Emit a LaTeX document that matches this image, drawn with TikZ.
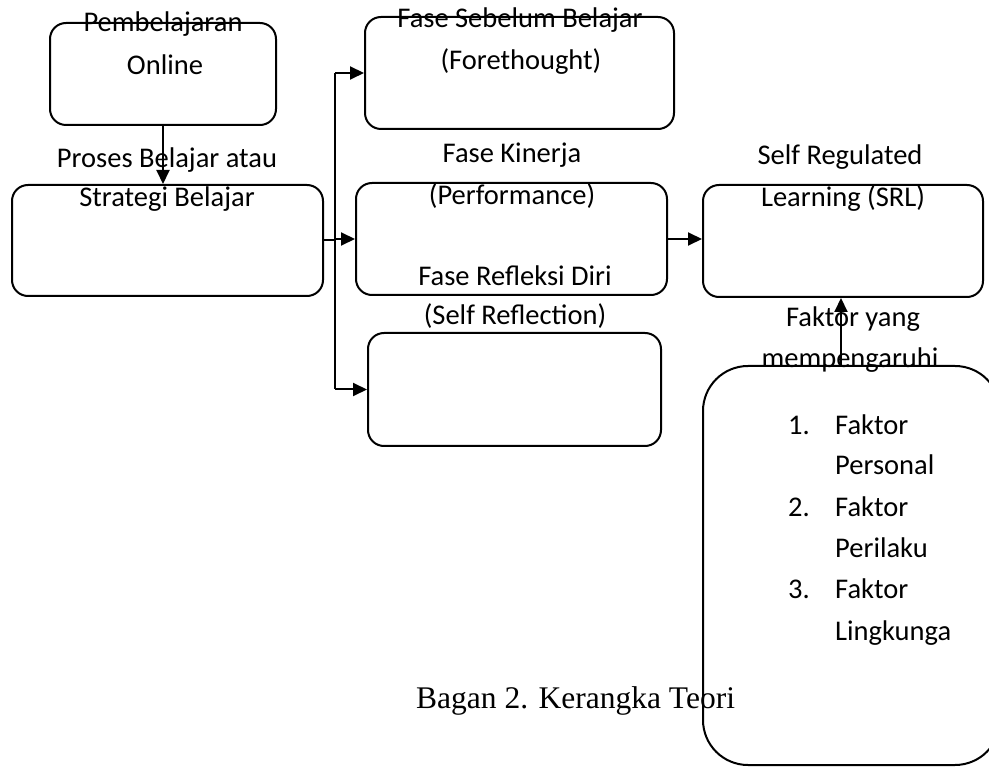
\documentclass[tikz,border=0pt]{standalone}
\usepackage{fontspec}
\setmainfont{Carlito}
\newfontfamily\capfont{Liberation Serif}
\usetikzlibrary{arrows.meta}
\begin{document}
\begin{tikzpicture}[x=1pt,y=-1pt,
  box/.style={draw, line width=2pt, rounded corners=16pt, inner sep=0pt},
  arr/.style={line width=2pt, -{Triangle[length=14pt,width=13pt]}},
  ln/.style={line width=2pt},
  lbl/.style={font=\fontsize{28.5}{34}\selectfont, inner sep=0pt, anchor=base},
  lw/.style={font=\fontsize{28.5}{34}\selectfont, inner sep=0pt, anchor=base west},
  captext/.style={font=\capfont\fontsize{31.5}{36}\selectfont, inner sep=0pt, anchor=base west}]
\useasboundingbox (0,0) rectangle (989,767);
\begin{scope}
\clip (0,0) rectangle (989,767);
% boxes
\node[box, minimum width=226pt, minimum height=102pt] (b1) at (163,74) {};
\node[box, minimum width=311pt, minimum height=111pt] (b2) at (167.5,240.5) {};
\node[box, minimum width=309pt, minimum height=112pt] (b3) at (519.5,73) {};
\node[box, minimum width=311pt, minimum height=112pt] (b4) at (511.5,239) {};
\node[box, minimum width=293pt, minimum height=113pt] (b5) at (514.5,389.5) {};
\node[box, minimum width=280pt, minimum height=112pt] (b6) at (843,241) {};
\node[box, rounded corners=45pt, minimum width=297pt, minimum height=399pt] (b7) at (851.5,565.5) {};
% connectors
\coordinate (t) at (335,0);
\coordinate (u) at (841,0);
\draw[arr] (b1.south) -- (b1.south |- b2.north);
\draw[ln] (b2.east) -- (b2.east -| t);
\draw[ln] (t |- b3.west) -- (t |- b5.west);
\draw[arr] (t |- b3.west) -- (b3.west);
\draw[arr] (t |- b4.west) -- (b4.west);
\draw[arr] (t |- b5.west) -- (b5.west);
\draw[arr] (b4.east) -- (b4.east -| b6.west);
\draw[arr] (u |- b7.north) -- (u |- b6.south);
% texts
\node[lbl] (t1a) at (163,32) {Pembelajaran};
\node[lbl] (t1b) at (165,75) {Online};
\node[lbl] (t2a) at (167,168) {Proses Belajar atau};
\node[lbl] (t2b) at (167,207) {Strategi Belajar};
\node[lbl] (t3a) at (520,28) {Fase Sebelum Belajar};
\node[lbl] (t3b) at (521,70) {(Forethought)};
\node[lbl] (t4a) at (512,163) {Fase Kinerja};
\node[lbl] (t4b) at (512,205) {(Performance)};
\node[lbl] (t5a) at (515,286) {Fase Refleksi Diri};
\node[lbl] (t5b) at (515,325) {(Self Reflection)};
\node[lbl] (t6a) at (840,165) {Self Regulated};
\node[lbl] (t6b) at (843,207) {Learning (SRL)};
\node[lbl] (t7a) at (853,327) {Faktor yang};
\node[lbl] (t7b) at (850,368) {mempengaruhi};
\node[lw] (n1) at (788,435) {1.};
\node[lw] (f1) at (835,435) {Faktor};
\node[lw] (f1b) at (835,475) {Personal};
\node[lw] (n2) at (788,517) {2.};
\node[lw] (f2) at (835,517) {Faktor};
\node[lw] (f2b) at (835,558) {Perilaku};
\node[lw] (n3) at (788,598) {3.};
\node[lw] (f3) at (835,598) {Faktor};
\node[lw] (f3b) at (835,640) {Lingkunga};
\node[captext] (capt) at (416,708) {Bagan 2. Kerangka Teori};
\end{scope}
\end{tikzpicture}
\end{document}
